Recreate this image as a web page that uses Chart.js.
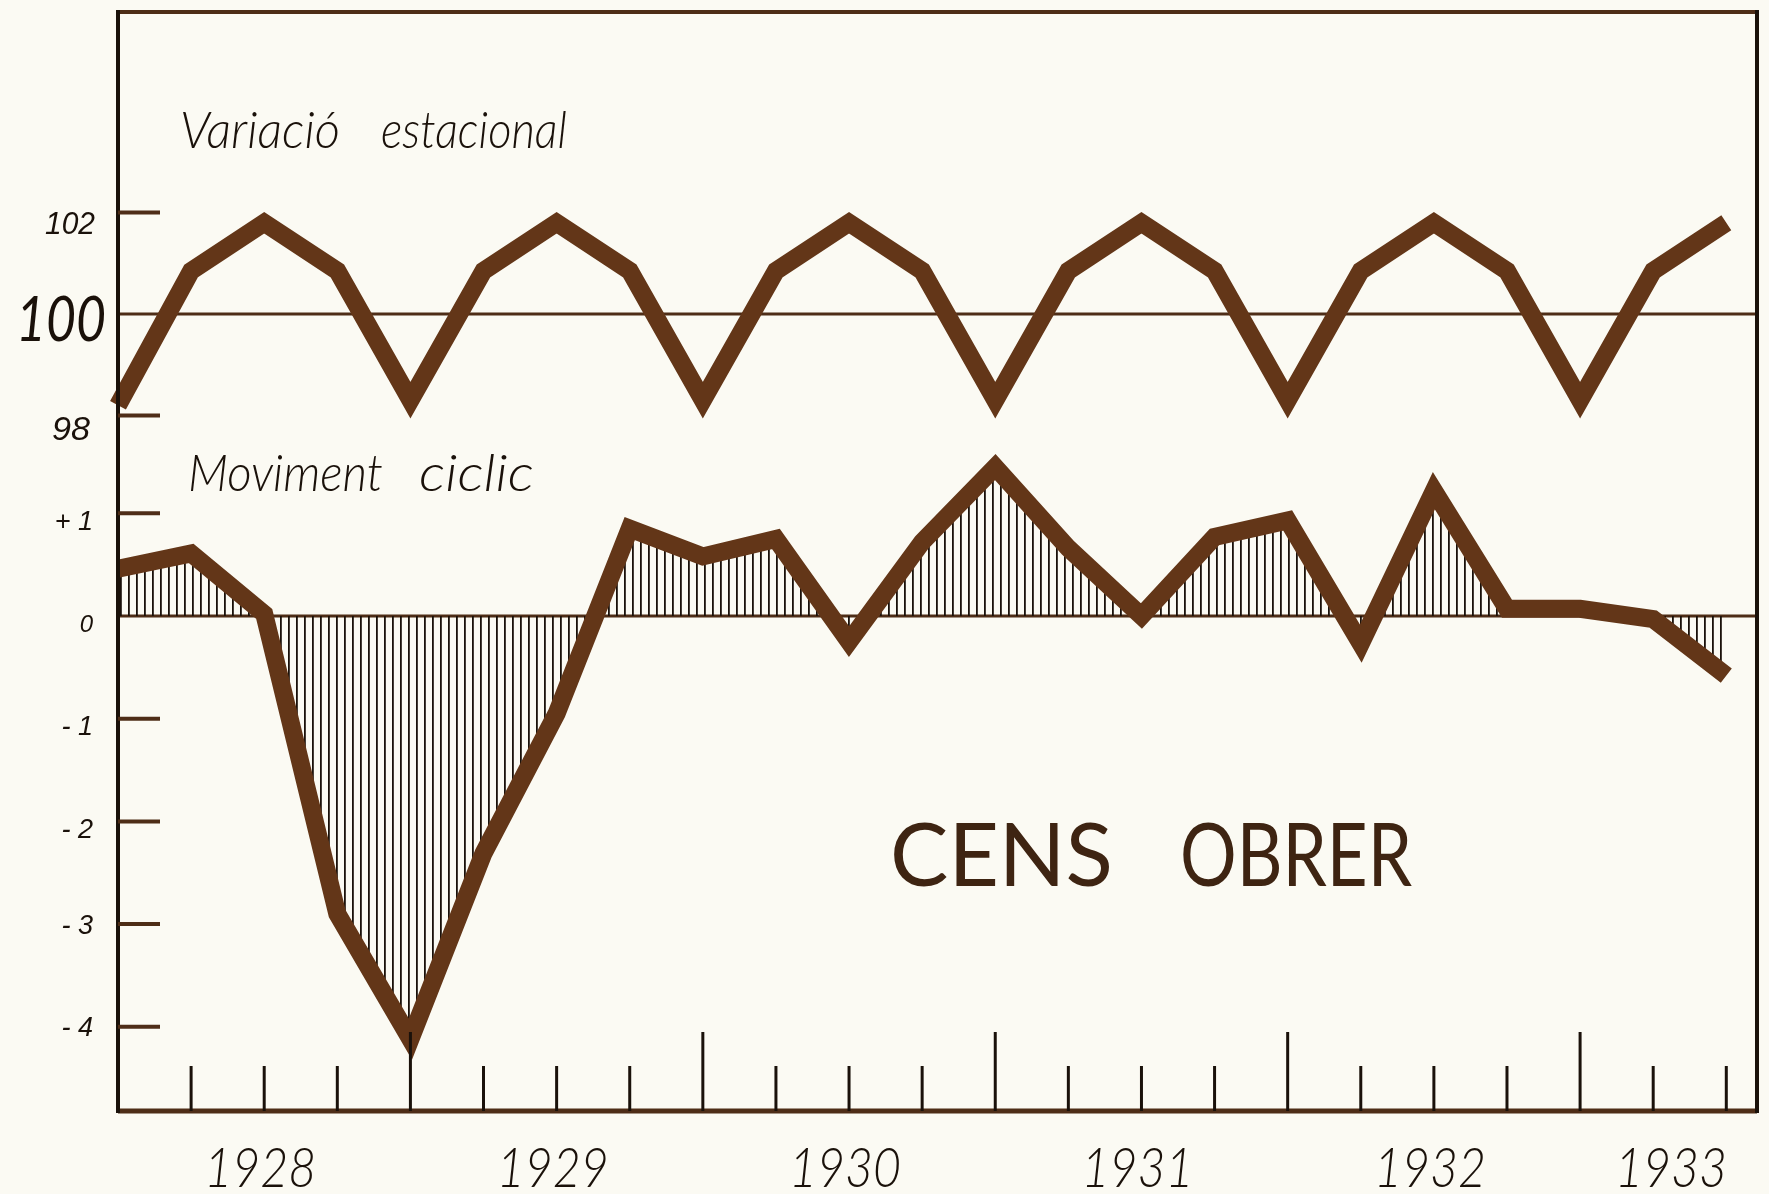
<!DOCTYPE html>
<html>
<head>
<meta charset="utf-8">
<script src="https://cdn.jsdelivr.net/npm/chart.js@4.4.1/dist/chart.umd.min.js"></script>
<style>
  html, body { margin: 0; padding: 0; background: #fbfaf3; }
  #wrap { position: relative; width: 1769px; height: 1194px; }
</style>
</head>
<body>
<div id="wrap"><canvas id="c"></canvas></div>
<script>
// ---------------- data ----------------
const quarterLabels = [
  '1928 I','1928 II','1928 III','1928 IV',
  '1929 I','1929 II','1929 III','1929 IV',
  '1930 I','1930 II','1930 III','1930 IV',
  '1931 I','1931 II','1931 III','1931 IV',
  '1932 I','1932 II','1932 III','1932 IV',
  '1933 I','1933 II','1933 III'
];
const seasonalValues = [
  98.2, 100.85, 101.8, 100.85,
  98.3, 100.85, 101.8, 100.85,
  98.3, 100.85, 101.8, 100.85,
  98.3, 100.85, 101.8, 100.85,
  98.3, 100.85, 101.8, 100.85,
  98.3, 100.85, 101.8
];
const cyclicValues = [
  0.46, 0.61, 0.02, -2.9,
  -4.12, -2.31, -0.95, 0.85,
  0.58, 0.75, -0.25, 0.72,
  1.45, 0.66, 0.0, 0.77,
  0.93, -0.27, 1.22, 0.07,
  0.07, -0.03, -0.58
];
const seasonalTicks = [102, 100, 98];
const seasonalTickLabels = ['102', '100', '98'];
const cyclicTicks = [1, 0, -1, -2, -3, -4];
const cyclicTickLabels = ['+ 1', '0', '- 1', '- 2', '- 3', '- 4'];
const yearLabels = ['1928', '1929', '1930', '1931', '1932', '1933'];
const yearQuarterIndex = [2, 6, 10, 14, 18, 22];
const seriesTitles = ['Variació estacional', 'Moviment ciclic'];
const chartTitle = 'CENS OBRER';

// ---------------- styles ----------------
const BG = '#fbfaf3';
const BROWN = '#633618';
const BROWN_DARK = '#4e2d17';
const INK = '#1a110a';
const ITALIC = '"Liberation Sans", "DejaVu Sans", sans-serif';
const LIGHT = 'Lato, "Open Sans", sans-serif';

// hatch pattern for the cyclic area
function makeHatch() {
  const p = document.createElement('canvas');
  p.width = 8; p.height = 8;
  const g = p.getContext('2d');
  g.fillStyle = INK;
  g.fillRect(0, 0, 1.8, 8);
  return g.createPattern(p, 'repeat');
}

function fitText(ctx, text, left, baseline, font, width) {
  ctx.font = font;
  const m = ctx.measureText(text).width;
  ctx.save();
  ctx.translate(left, baseline);
  ctx.scale(width / m, 1);
  ctx.textAlign = 'left';
  ctx.textBaseline = 'alphabetic';
  ctx.fillText(text, 0, 0);
  ctx.restore();
}

const decor = {
  id: 'decor',
  beforeDraw(chart) {
    const ctx = chart.ctx;
    ctx.save();
    ctx.fillStyle = BG;
    ctx.fillRect(0, 0, chart.width, chart.height);
    ctx.restore();
  },
  beforeDatasetsDraw(chart) {
    const { ctx, chartArea: a, scales } = chart;
    ctx.save();
    ctx.strokeStyle = BROWN_DARK;
    ctx.lineWidth = 3;
    [[scales.yS, 100], [scales.yC, 0]].forEach(([s, v]) => {
      const y = s.getPixelForValue(v);
      ctx.beginPath(); ctx.moveTo(a.left, y); ctx.lineTo(a.right, y); ctx.stroke();
    });
    ctx.restore();
  },
  afterDatasetsDraw(chart) {
    const { ctx, chartArea: a, scales } = chart;
    const xs = scales.x;
    ctx.save();
    ctx.lineCap = 'butt';

    // frame
    ctx.strokeStyle = BROWN_DARK; ctx.lineWidth = 4;
    ctx.beginPath(); ctx.moveTo(a.left, a.top); ctx.lineTo(a.right, a.top); ctx.stroke();
    ctx.lineWidth = 5;
    ctx.beginPath(); ctx.moveTo(a.left, a.bottom); ctx.lineTo(a.right, a.bottom); ctx.stroke();
    ctx.strokeStyle = INK; ctx.lineWidth = 4;
    ctx.beginPath(); ctx.moveTo(a.left, a.top - 2); ctx.lineTo(a.left, a.bottom + 2); ctx.stroke();
    ctx.beginPath(); ctx.moveTo(a.right, a.top - 2); ctx.lineTo(a.right, a.bottom + 2); ctx.stroke();

    // left tick marks (inside)
    ctx.strokeStyle = BROWN_DARK; ctx.lineWidth = 4;
    seasonalTicks.forEach(v => {
      if (v === 100) return;
      const y = scales.yS.getPixelForValue(v);
      ctx.beginPath(); ctx.moveTo(a.left, y); ctx.lineTo(a.left + 42, y); ctx.stroke();
    });
    cyclicTicks.forEach(v => {
      if (v === 0) return;
      const y = scales.yC.getPixelForValue(v);
      ctx.beginPath(); ctx.moveTo(a.left, y); ctx.lineTo(a.left + 42, y); ctx.stroke();
    });

    // bottom tick marks (inside)
    ctx.strokeStyle = INK; ctx.lineWidth = 3;
    for (let i = 1; i < quarterLabels.length; i++) {
      const x = xs.getPixelForValue(i);
      const len = (i % 4 === 0) ? 79 : 45;
      ctx.beginPath(); ctx.moveTo(x, a.bottom); ctx.lineTo(x, a.bottom - len); ctx.stroke();
    }

    // tick labels
    ctx.fillStyle = INK;
    seasonalTicks.forEach((v, i) => {
      const y = scales.yS.getPixelForValue(v);
      if (v === 100) {
        fitText(ctx, seasonalTickLabels[i], 16, y + 27, 'italic 400 62px ' + LIGHT, 90);
      } else if (v > 100) {
        fitText(ctx, seasonalTickLabels[i], 45, y + 21, 'italic 31px ' + ITALIC, 50);
      } else {
        fitText(ctx, seasonalTickLabels[i], 52, y + 25, 'italic 34px ' + ITALIC, 38);
      }
    });
    ctx.textAlign = 'right';
    ctx.textBaseline = 'middle';
    cyclicTicks.forEach((v, i) => {
      const y = scales.yC.getPixelForValue(v);
      ctx.font = 'italic ' + (v === 0 ? 24 : 27) + 'px ' + ITALIC;
      ctx.fillText(cyclicTickLabels[i], a.left - 25, y + (v >= -2 ? 9 : 2));
    });

    // year labels
    yearLabels.forEach((t, i) => {
      let cx = xs.getPixelForValue(yearQuarterIndex[i]) - 4;
      const w = 112;
      if (cx + w / 2 > a.right - 30) cx = a.right - 30 - w / 2;
      fitText(ctx, t, cx - w / 2, 1187, 'italic 300 56px ' + LIGHT, w);
    });

    // series titles
    const [w1a, w1b] = seriesTitles[0].split(' ');
    fitText(ctx, w1a, 180, 148, 'italic 300 52px ' + LIGHT, 160);
    fitText(ctx, w1b, 381, 148, 'italic 300 52px ' + LIGHT, 186);
    const [w2a, w2b] = seriesTitles[1].split(' ');
    fitText(ctx, w2a, 188, 491, 'italic 300 52px ' + LIGHT, 195);
    fitText(ctx, w2b, 419, 491, 'italic 300 52px ' + LIGHT, 115);

    // big title
    ctx.fillStyle = '#3e2412';
    const [t1, t2] = chartTitle.split(' ');
    fitText(ctx, t1, 890, 886, '400 88px ' + LIGHT, 223);
    fitText(ctx, t2, 1180, 886, '400 88px ' + LIGHT, 232);

    ctx.restore();
  }
};

const hatch = makeHatch();

new Chart(document.getElementById('c'), {
  type: 'line',
  data: {
    datasets: [
      {
        label: seriesTitles[0],
        data: seasonalValues.map((v, i) => ({ x: i, y: v })),
        yAxisID: 'yS',
        borderColor: BROWN,
        borderWidth: 18,
        borderJoinStyle: 'miter',
        borderCapStyle: 'butt',
        pointRadius: 0,
        tension: 0,
        fill: false,
        clip: false
      },
      {
        label: seriesTitles[1],
        data: cyclicValues.map((v, i) => ({ x: i, y: v })),
        yAxisID: 'yC',
        borderColor: BROWN,
        borderWidth: 18,
        borderJoinStyle: 'miter',
        borderCapStyle: 'butt',
        backgroundColor: hatch,
        pointRadius: 0,
        tension: 0,
        fill: { value: 0 },
        clip: false
      }
    ]
  },
  options: {
    responsive: true,
    maintainAspectRatio: false,
    animation: false,
    layout: { padding: { left: 118, top: 12, right: 12, bottom: 83 } },
    plugins: { legend: { display: false }, tooltip: { enabled: false } },
    scales: {
      x: { type: 'linear', display: false, min: 0, max: 22.42 },
      yS: { type: 'linear', display: false, min: 84.28, max: 105.957 },
      yC: { type: 'linear', display: false, min: -4.82, max: 5.881 }
    }
  },
  plugins: [decor]
});
</script>
</body>
</html>
